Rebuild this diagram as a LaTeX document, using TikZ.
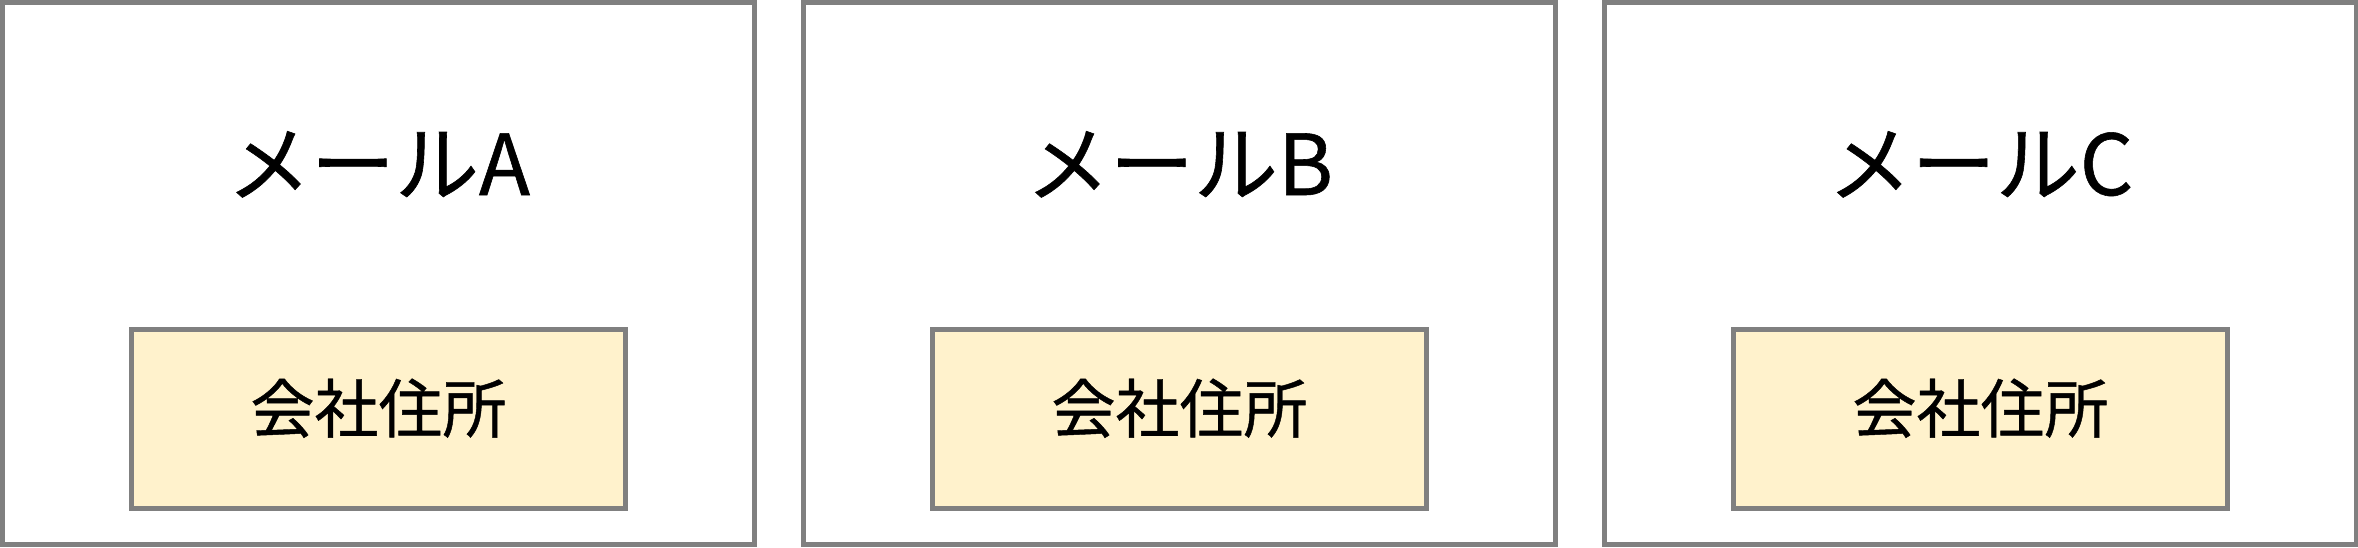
\documentclass[tikz,border=0pt]{standalone}
\usepackage{fontspec}
\setmainfont{Noto Sans CJK JP}[FakeBold=0.7]
\usetikzlibrary{positioning}

\begin{document}
\begin{tikzpicture}[x=0.5pt, y=-0.5pt,
    mailbox/.style={draw=boxgray, line width=2.5pt, fill=white, minimum width=376pt, minimum height=271pt, inner sep=0pt},
    fieldbox/.style={draw=boxgray, line width=2.5pt, fill=fieldyellow, minimum width=247pt, minimum height=89.5pt, inner sep=0pt},
    mailname/.style={anchor=base, inner sep=0pt, font=\fontsize{42pt}{42pt}\selectfont},
    fieldname/.style={anchor=base, inner sep=0pt, font=\fontsize{32pt}{32pt}\selectfont}]
    \definecolor{boxgray}{HTML}{808080}
    \definecolor{fieldyellow}{HTML}{FFF2CC}
    \useasboundingbox (0,0) rectangle (2358,547);
    \node[mailbox] (m_a) at (378.5, 273.5) {};
    \node[mailbox] (m_b) at (1179.5, 273.5) {};
    \node[mailbox] (m_c) at (1980.5, 273.5) {};
    \node[fieldbox] (f_a) at (378.5, 419) {};
    \node[fieldbox] (f_b) at (1179.5, 419) {};
    \node[fieldbox] (f_c) at (1980.5, 419) {};
    \node[mailname] (t_a) at (378.5, 195) {メールA};
    \node[mailname] (t_b) at (1179.5, 195) {メールB};
    \node[mailname] (t_c) at (1980.5, 195) {メールC};
    \node[fieldname] (l_a) at (378.5, 432.5) {会社住所};
    \node[fieldname] (l_b) at (1179.5, 432.5) {会社住所};
    \node[fieldname] (l_c) at (1980.5, 432.5) {会社住所};
\end{tikzpicture}
\end{document}
